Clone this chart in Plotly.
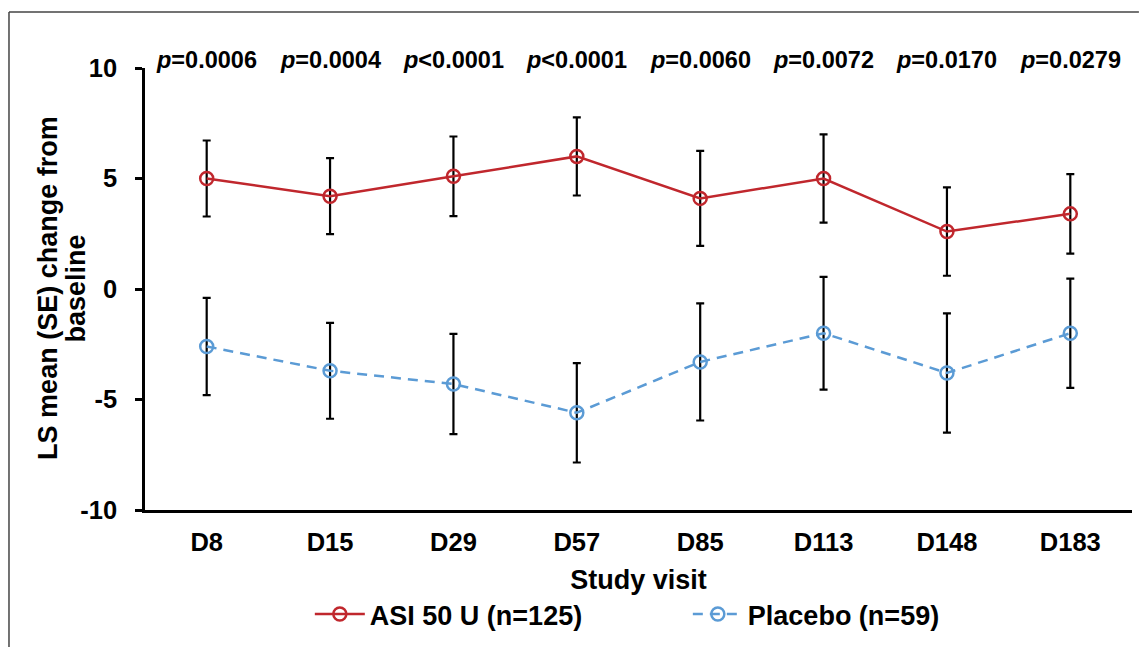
import plotly.graph_objects as go

visits = ["D8", "D15", "D29", "D57", "D85", "D113", "D148", "D183"]
asi_mean = [5.0, 4.2, 5.1, 6.0, 4.1, 5.0, 2.6, 3.4]
asi_se = [1.72, 1.72, 1.8, 1.77, 2.15, 2.0, 2.0, 1.8]
pbo_mean = [-2.6, -3.7, -4.3, -5.6, -3.3, -2.0, -3.8, -2.0]
pbo_se = [2.2, 2.17, 2.27, 2.25, 2.65, 2.55, 2.7, 2.47]
p_labels = ["=0.0006", "=0.0004", "<0.0001", "<0.0001", "=0.0060", "=0.0072", "=0.0170", "=0.0279"]
y_ticks = [-10, -5, 0, 5, 10]
y_ticktext = ["-10", "-5", "0", "5", "10"]

RED = "#C0272D"
BLUE = "#5B9BD5"
FONT = "Liberation Sans, Arial, sans-serif"

fig = go.Figure()
fig.add_trace(go.Scatter(
    x=visits, y=asi_mean, name="ASI 50 U (n=125)", mode="lines+markers",
    line=dict(color=RED, width=2.5),
    marker=dict(symbol="circle-open", size=13, color=RED, line=dict(width=2.5)),
    error_y=dict(type="data", array=asi_se, visible=True, color="black", thickness=2.2, width=4),
))
fig.add_trace(go.Scatter(
    x=visits, y=pbo_mean, name="Placebo (n=59)", mode="lines+markers",
    line=dict(color=BLUE, width=2.5, dash="10px,7px"),
    marker=dict(symbol="circle-open", size=13, color=BLUE, line=dict(width=2.5)),
    error_y=dict(type="data", array=pbo_se, visible=True, color="black", thickness=2.2, width=4),
))

for v, p in zip(visits, p_labels):
    fig.add_annotation(x=v, y=10, xref="x", yref="y", text="<b><i>p</i>" + p + "</b>",
                       showarrow=False, yanchor="bottom", yshift=-7,
                       font=dict(family=FONT, size=23.5, color="black"))

# y-axis title as two rotated lines
fig.add_annotation(x=-0.0985, y=0.502, xref="paper", yref="paper", text="<b>LS mean (SE) change from</b>",
                   showarrow=False, textangle=-90, xanchor="center", yanchor="middle",
                   font=dict(family=FONT, size=27, color="black"))
fig.add_annotation(x=-0.0695, y=0.502, xref="paper", yref="paper", text="<b>baseline</b>",
                   showarrow=False, textangle=-90, xanchor="center", yanchor="middle",
                   font=dict(family=FONT, size=27, color="black"))

# outer frame (left and top edges; the rest lies outside the picture)
fig.add_shape(type="line", xref="paper", yref="paper", x0=-0.1378, x1=-0.1378, y0=-0.31, y1=1.1267,
              line=dict(color="#444444", width=1.5), layer="below")
fig.add_shape(type="line", xref="paper", yref="paper", x0=-0.1378, x1=1.007, y0=1.1267, y1=1.1267,
              line=dict(color="#444444", width=1.5), layer="below")

fig.update_layout(
    width=1132, height=640,
    margin=dict(l=137, r=8, t=60, b=138),
    paper_bgcolor="white", plot_bgcolor="white",
    font=dict(family=FONT, color="black"),
    showlegend=True,
    legend=dict(orientation="h", x=0.167, xanchor="left", y=-0.181, yanchor="top",
                font=dict(family=FONT, size=27, color="black", weight="bold"),
                entrywidth=313, entrywidthmode="pixels", itemwidth=50),
    xaxis=dict(type="category", range=[-0.5, 7.5], showline=True, linecolor="black", linewidth=2.5,
               ticks="", showgrid=False, zeroline=False, ticklabelstandoff=8,
               tickfont=dict(family=FONT, size=25.5, color="black", weight="bold"),
               title=dict(text="Study visit", font=dict(family=FONT, size=27, color="black", weight="bold"),
                          standoff=15)),
    yaxis=dict(range=[-10, 10], tickvals=y_ticks, ticktext=y_ticktext, showline=True,
               linecolor="black", linewidth=2.5,
               ticks="outside", ticklen=7, tickwidth=2.5, tickcolor="black", ticklabelstandoff=13,
               showgrid=False, zeroline=False,
               tickfont=dict(family=FONT, size=25.5, color="black", weight="bold")),
)

fig.write_html("out.html")
